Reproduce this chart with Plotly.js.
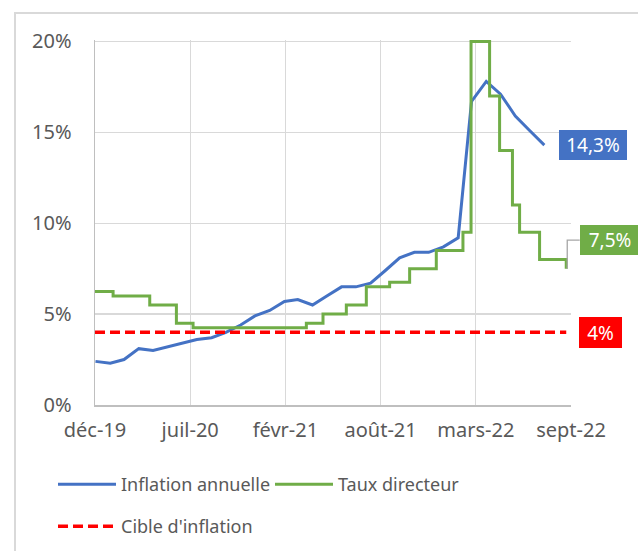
<!DOCTYPE html>
<html><head><meta charset="utf-8">
<script src="https://cdn.plot.ly/plotly-3.0.1.min.js"></script>
<style>
html,body{margin:0;padding:0;background:#fff;}
#wrap{position:relative;width:638px;height:551px;overflow:hidden;}
#chart{width:638px;height:551px;}
#frame{position:absolute;left:14px;top:12px;width:700px;height:600px;border-left:2px solid #d9d9d9;border-top:2px solid #d9d9d9;pointer-events:none;}
</style>
</head><body><div id="wrap"><div id="chart"></div><div id="frame"></div></div>
<script>
// Inflation annuelle (monthly, %)
var inflationDates = ['2020-01-01','2020-02-01','2020-03-01','2020-04-01','2020-05-01','2020-06-01','2020-07-01','2020-08-01','2020-09-01','2020-10-01','2020-11-01','2020-12-01',
  '2021-01-01','2021-02-01','2021-03-01','2021-04-01','2021-05-01','2021-06-01','2021-07-01','2021-08-01','2021-09-01','2021-10-01','2021-11-01','2021-12-01',
  '2022-01-01','2022-02-01','2022-03-01','2022-04-01','2022-05-01','2022-06-01','2022-07-01','2022-08-01'];
var inflationValues = [2.4,2.3,2.5,3.1,3.0,3.2,3.4,3.6,3.7,4.0,4.4,4.9,
  5.2,5.7,5.8,5.5,6.0,6.5,6.5,6.7,7.4,8.1,8.4,8.4,
  8.7,9.2,16.7,17.8,17.1,15.9,15.1,14.3];

// Taux directeur (decision dates, %)
var rateDates = ['2019-12-31','2020-02-07','2020-04-24','2020-06-19','2020-07-24','2021-03-19','2021-04-23','2021-06-11','2021-07-23','2021-09-10','2021-10-22','2021-12-17','2022-02-11','2022-02-28','2022-04-08','2022-04-29','2022-05-26','2022-06-10','2022-07-22','2022-09-16'];
var rateValues = [6.25,6.0,5.5,4.5,4.25,4.5,5.0,5.5,6.5,6.75,7.5,8.5,9.5,20,17,14,11,9.5,8.0,7.5];

// Cible d'inflation (%)
var targetDates = ['2019-12-31','2022-09-16'];
var targetValues = [4,4];

// Axis ticks
var xRange = ['2019-12-31','2022-09-26'];
var tickDates = ['2019-12-31','2020-07-18','2021-02-03','2021-08-22','2022-03-10','2022-09-26'];
var tickLabels = ['déc-19','juil-20','févr-21','août-21','mars-22','sept-22'];
var yRange = [0, 20.08];
var yTicks = [0,5,10,15,20];
var yTickLabels = ['0%','5%','10%','15%','20%'];

var seriesNames = ['Inflation annuelle','Taux directeur',"Cible d'inflation"];
var COLORS = {blue:'#4472C4', green:'#70AD47', red:'#FF0000'};
var FONT = '"Noto Sans", sans-serif';

function fmt(v){ return String(v).replace('.', ',') + '%'; }

var traces = [
  {type:'scatter', mode:'lines', name:seriesNames[0], x:inflationDates, y:inflationValues,
   line:{color:COLORS.blue, width:3}, legend:'legend', hoverinfo:'skip'},
  {type:'scatter', mode:'lines', name:seriesNames[1], x:rateDates, y:rateValues,
   line:{color:COLORS.green, width:3, shape:'hv'}, legend:'legend', hoverinfo:'skip'},
  {type:'scatter', mode:'lines', name:seriesNames[2], x:targetDates, y:targetValues,
   line:{color:COLORS.red, width:3.5, dash:'10px,5px'}, legend:'legend2', hoverinfo:'skip'}
];

var lastInfX = inflationDates[inflationDates.length-1], lastInf = inflationValues[inflationValues.length-1];
var lastRateX = rateDates[rateDates.length-1], lastRate = rateValues[rateValues.length-1];
var lastTgtX = targetDates[targetDates.length-1], lastTgt = targetValues[targetValues.length-1];

var t0 = Date.parse(xRange[0]), t1 = Date.parse(xRange[1]);
var rateXPaper = (Date.parse(lastRateX) - t0) / (t1 - t0);
var rateYPaper = (lastRate - yRange[0]) / (yRange[1] - yRange[0]);

var legendCommon = {orientation:'h', xanchor:'left', yanchor:'top', bgcolor:'rgba(0,0,0,0)',
  borderwidth:0, font:{family:FONT, size:18, color:'#595959'}, itemwidth:58,
  entrywidth:144, entrywidthmode:'pixels', itemclick:false, itemdoubleclick:false};

var layout = {
  width:638, height:551,
  margin:{l:95, r:67, t:40, b:146, pad:0, autoexpand:false},
  paper_bgcolor:'rgba(0,0,0,0)', plot_bgcolor:'rgba(0,0,0,0)',
  font:{family:FONT, size:18, color:'#595959'},
  showlegend:true,
  xaxis:{type:'date', range:xRange, tickmode:'array', tickvals:tickDates, ticktext:tickLabels,
    showgrid:true, gridcolor:'#d9d9d9', gridwidth:1.3, showline:true, linecolor:'#bfbfbf', linewidth:1.5,
    ticks:'', tickfont:{family:FONT, size:20, color:'#595959'}, ticklabelstandoff:6, zeroline:false, fixedrange:true},
  yaxis:{range:yRange, tickmode:'array', tickvals:yTicks, ticktext:yTickLabels,
    showgrid:true, gridcolor:'#d9d9d9', gridwidth:1.3, showline:true, linecolor:'#bfbfbf', linewidth:1.5,
    ticks:'', tickfont:{family:FONT, size:20, color:'#595959'}, ticklabelstandoff:18, zeroline:false, fixedrange:true},
  legend:Object.assign({}, legendCommon, {x:(53-95)/476, y:(405-466)/365}),
  legend2:Object.assign({}, legendCommon, {x:(53-95)/476, y:(405-508)/365}),
  annotations:[
    {x:lastInfX, y:lastInf, xref:'x', yref:'y', text:fmt(lastInf), showarrow:false, xanchor:'left', yanchor:'middle',
     xshift:14.5, bgcolor:COLORS.blue, font:{family:FONT, size:19, color:'#ffffff'}, width:68, height:30, borderpad:0, borderwidth:0},
    {x:lastRateX, y:lastRate, xref:'x', yref:'y', text:fmt(lastRate), showarrow:false, xanchor:'left', yanchor:'middle',
     xshift:13.5, yshift:28.5, bgcolor:COLORS.green, font:{family:FONT, size:19, color:'#ffffff'}, width:60, height:30, borderpad:0, borderwidth:0},
    {x:lastTgtX, y:lastTgt, xref:'x', yref:'y', text:fmt(lastTgt), showarrow:false, xanchor:'left', yanchor:'middle',
     xshift:12.5, bgcolor:COLORS.red, font:{family:FONT, size:19, color:'#ffffff'}, width:43, height:31, borderpad:0, borderwidth:0}
  ],
  shapes:[
    {type:'path', xref:'paper', yref:'paper', xsizemode:'pixel', ysizemode:'pixel', xanchor:rateXPaper, yanchor:rateYPaper,
     path:'M1,0V28.5H13.5', line:{color:'#a6a6a6', width:1.3}, layer:'above'}
  ]
};

Plotly.newPlot('chart', traces, layout, {displayModeBar:false, staticPlot:true});
</script></body></html>
